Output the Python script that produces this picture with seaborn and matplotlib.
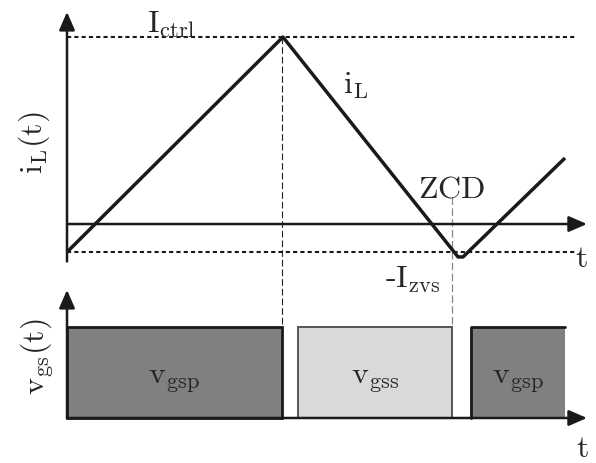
import matplotlib
matplotlib.use("Agg")
import matplotlib.pyplot as plt
import numpy as np
import pandas as pd
import seaborn as sns

sns.set_theme(style="white")
plt.rcParams["mathtext.fontset"] = "cm"
plt.rcParams["font.family"] = ["cmr10", "DejaVu Serif"]
plt.rcParams["axes.unicode_minus"] = False

# inductor current waveform (time in switching units, current normalised to I_ctrl)
t_current = [0.0, 0.995, 1.802, 1.825, 2.295]
i_current = [-0.15, 1.0, -0.176, -0.176, 0.353]
I_ctrl = 1.0
I_zvs = 0.15
t_peak = 0.99      # turn-off instant of the primary switch
t_zcd = 1.774      # zero-current detection instant

# gate-drive pulses
pulse_names = ["v_{gsp}", "v_{gss}", "v_{gsp}"]
pulse_start = [0.0, 1.065, 1.862]
pulse_end = [0.99, 1.774, 2.295]
pulse_level = [1.0, 1.0, 1.0]
pulse_fill = ["#808080", "#d9d9d9", "#808080"]

t_axis_end = 2.396

fig = plt.figure(figsize=(5.96, 4.63), dpi=100)
ax_i = fig.add_axes([0, 0, 1, 1])
ax_v = fig.add_axes([0, 0, 1, 1])
for ax in (ax_i, ax_v):
    ax.set_axis_off()
    ax.set_xlim(-0.3088, 2.4378)
    ax.patch.set_alpha(0)
ax_i.set_ylim(-1.278, 1.198)
ax_v.set_ylim(-0.4945, 4.593)

arrow_kw = dict(arrowstyle="-|>,head_length=0.55,head_width=0.24",
                mutation_scale=20, lw=1.8, color="k", shrinkA=0, shrinkB=0)
fs = 23

# ---- current panel ----
ax_i.annotate("", xy=(0, 1.134), xytext=(0, -0.2), arrowprops=arrow_kw)
ax_i.annotate("", xy=(t_axis_end, 0), xytext=(0, 0), arrowprops=arrow_kw)

dash_h = dict(color="k", lw=1.5, linestyle=(0, (2.0, 1.5)))
ax_i.plot([0, 2.341], [I_ctrl, I_ctrl], **dash_h)
ax_i.plot([0, 2.341], [-I_zvs, -I_zvs], **dash_h)

ax_i.plot([t_peak, t_peak], [I_ctrl, -0.553], color="#222222", lw=0.8,
          linestyle=(0, (6, 2.7)))
ax_i.plot([t_zcd, t_zcd], [0.145, -0.553], color="#888888", lw=0.9,
          linestyle=(0, (6, 2.7)))

df = pd.DataFrame({"t": t_current, "i": i_current})
sns.lineplot(data=df, x="t", y="i", ax=ax_i, color="k", lw=2.5,
             estimator=None, sort=False, solid_joinstyle="round",
             solid_capstyle="butt")
ax_i.set_axis_off()

ax_i.text(0.369, 1.027, r"$\mathrm{I_{ctrl}}$", fontsize=fs, ha="left", va="baseline")
ax_i.text(1.272, 0.70, r"$\mathrm{i_{L}}$", fontsize=fs, ha="left", va="baseline")
ax_i.text(1.618, 0.144, r"$\mathrm{ZCD}$", fontsize=fs, ha="left", va="baseline")
ax_i.text(1.465, -0.337, r"-$\mathrm{I_{zvs}}$", fontsize=fs, ha="left", va="baseline")
ax_i.text(2.369, -0.23, r"$\mathrm{t}$", fontsize=fs, ha="center", va="baseline")
ax_i.text(-0.152, 0.433, r"$\mathrm{i_{L}(t)}$", fontsize=fs, ha="center",
          va="center", rotation=90)

# ---- gate-drive panel ----
widths = np.array(pulse_end) - np.array(pulse_start)
bars = ax_v.bar(pulse_start, pulse_level, width=widths, align="edge",
                color=pulse_fill, zorder=1)
bars[0].set_edgecolor("k")
bars[0].set_linewidth(2.0)
bars[1].set_edgecolor("#555555")
bars[1].set_linewidth(1.4)
bars[2].set_linewidth(0)
ax_v.plot([pulse_start[2], pulse_start[2], pulse_end[2]],
          [0, pulse_level[2], pulse_level[2]], color="k", lw=2.0, zorder=2)

ax_v.annotate("", xy=(0, 1.407), xytext=(0, 0), arrowprops=arrow_kw)
ax_v.annotate("", xy=(t_axis_end, 0), xytext=(0, 0), arrowprops=arrow_kw)

for name, s, e in zip(pulse_names, pulse_start, pulse_end):
    ax_v.text((s + e) / 2, 0.385, rf"$\mathrm{{{name}}}$", fontsize=fs,
              ha="center", va="baseline")
ax_v.text(2.373, -0.43, r"$\mathrm{t}$", fontsize=fs, ha="center", va="baseline")
ax_v.text(-0.138, 0.67, r"$\mathrm{v_{gs}(t)}$", fontsize=fs, ha="center",
          va="center", rotation=90)

fig.savefig("out.png", dpi=100, facecolor="white")
